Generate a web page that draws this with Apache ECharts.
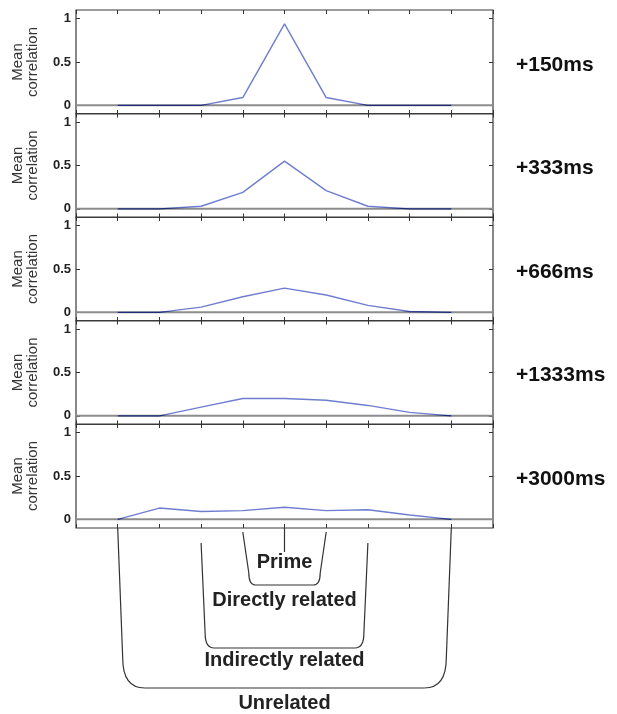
<!DOCTYPE html>
<html>
<head>
<meta charset="utf-8">
<script src="https://cdn.jsdelivr.net/npm/echarts@6/dist/echarts.min.js"></script>
<style>
html, body { margin: 0; padding: 0; background: #fff; }
#chart { width: 617px; height: 714px; }
</style>
</head>
<body>
<div id="chart"></div>
<script>
// one panel per delay
var delays = ['+150ms', '+333ms', '+666ms', '+1333ms', '+3000ms'];
// 9 positions along x, prime in the middle
var positions = [0, 1, 2, 3, 4, 5, 6, 7, 8];
var corr150 = [0, 0, 0, 0.09, 0.94, 0.09, 0, 0, 0];
var corr333 = [0, 0, 0.03, 0.19, 0.55, 0.21, 0.03, 0, 0];
var corr666 = [0, 0, 0.06, 0.18, 0.28, 0.2, 0.08, 0.01, 0];
var corr1333 = [0, 0, 0.1, 0.2, 0.2, 0.18, 0.12, 0.04, 0];
var corr3000 = [0, 0.13, 0.09, 0.1, 0.14, 0.1, 0.11, 0.05, 0];
var yTicks = [0, 0.5, 1];
// brackets under the last panel
var groupNames = ['Prime', 'Directly related', 'Indirectly related', 'Unrelated'];
var groupFrom = [4, 3, 2, 0];
var groupTo = [4, 5, 6, 8];

var panels = [corr150, corr333, corr666, corr1333, corr3000];
var FONT = 'Liberation Sans, Arial, sans-serif';

var chart = echarts.init(document.getElementById('chart'));

var top0 = 10, step = 103.5, h = 104;
var grids = [], xAxes = [], yAxes = [], series = [], lineIdx = [], labels = [];

panels.forEach(function (vals, k) {
  var top = top0 + step * k;
  grids.push({
    left: 76, right: 124, top: top, height: h,
    show: true, borderColor: '#3a3a3a', borderWidth: 1.2
  });
  ['bottom', 'top'].forEach(function (pos) {
    xAxes.push({
      gridIndex: k, type: 'value', min: -1, max: 9, interval: 1, position: pos,
      axisLine: { show: false, onZero: false },
      axisTick: { inside: true, length: 4, lineStyle: { color: '#333', width: 1 } },
      axisLabel: { show: false },
      splitLine: { show: false }
    });
  });
  ['left', 'right'].forEach(function (pos) {
    yAxes.push({
      gridIndex: k, type: 'value', min: -0.1, max: 1.1, position: pos,
      axisLine: { show: false, onZero: false },
      axisTick: { inside: true, length: 4, customValues: yTicks, lineStyle: { color: '#333', width: 1 } },
      axisLabel: {
        show: pos === 'left', customValues: yTicks, margin: 5,
        fontFamily: FONT, fontSize: 13, fontWeight: 'bold', color: '#222'
      },
      splitLine: { show: false },
      name: pos === 'left' ? 'Mean\ncorrelation' : '',
      nameLocation: 'middle', nameRotate: 90, nameGap: 36,
      nameTextStyle: { fontFamily: FONT, fontSize: 15, lineHeight: 15, color: '#333' }
    });
  });
  // zero reference line
  series.push({
    type: 'line', xAxisIndex: 2 * k, yAxisIndex: 2 * k, silent: true,
    data: [[-1, 0], [9, 0]], symbol: 'none', z: 1,
    lineStyle: { color: '#8c8c8c', width: 2 }
  });
  lineIdx.push(series.length);
  series.push({
    type: 'line', xAxisIndex: 2 * k, yAxisIndex: 2 * k,
    data: positions.map(function (p, i) { return [p, vals[i]]; }),
    symbol: 'none', z: 3,
    lineStyle: { width: 1.4, color: '#6e7dd0' }
  });
  labels.push({
    type: 'text', x: 516, y: top + 55,
    style: { text: delays[k], font: 'bold 21px ' + FONT, fill: '#111', verticalAlign: 'middle' }
  });
});

chart.setOption({
  animation: false,
  grid: grids,
  xAxis: xAxes,
  yAxis: yAxes,
  series: series,
  graphic: labels
});

// flat parts along zero are drawn darker, like the original
var seriesUpd = series.map(function (s, i) {
  var k = lineIdx.indexOf(i);
  if (k < 0) return {};
  var yCut = chart.convertToPixel({ gridIndex: k }, [0, 0.012])[1];
  return {
    lineStyle: {
      color: {
        type: 'linear', global: true, x: 0, y: yCut - 0.5, x2: 0, y2: yCut + 0.5,
        colorStops: [{ offset: 0, color: '#6e7dd0' }, { offset: 1, color: '#1d2b7a' }]
      }
    }
  };
});

// brackets grouping the positions
var gridBottom = top0 + step * 4 + h;
var tops = [0, 4, 15, 0];
var bottoms = [24, 57, 120, 160];
var textY = [34, 72, 132, 175];
var inset = [0, 6, 4, 5];
var rv = [0, 12, 15, 30];
var rh = [0, 7, 9, 22];
var brackets = [];
var stroke = { stroke: '#333', lineWidth: 1.2, fill: null };

function seg(x1, y1, x2, y2) {
  brackets.push({ type: 'line', shape: { x1: x1, y1: y1, x2: x2, y2: y2 }, style: stroke });
}
function corner(x1, y1, cx, cy, x2, y2) {
  brackets.push({
    type: 'bezierCurve',
    shape: { x1: x1, y1: y1, cpx1: cx, cpy1: cy, x2: x2, y2: y2 },
    style: stroke
  });
}

groupNames.forEach(function (name, g) {
  var x1 = chart.convertToPixel({ gridIndex: 4 }, [groupFrom[g], 0])[0];
  var x2 = chart.convertToPixel({ gridIndex: 4 }, [groupTo[g], 0])[0];
  var yT = gridBottom + tops[g], yB = gridBottom + bottoms[g];
  if (x1 === x2) {
    seg(x1, yT, x1, yB);
  } else {
    var a = x1 + inset[g], b = x2 - inset[g];
    seg(x1, yT, a, yB - rv[g]);
    corner(a, yB - rv[g], a, yB, a + rh[g], yB);
    seg(a + rh[g], yB, b - rh[g], yB);
    corner(b - rh[g], yB, b, yB, b, yB - rv[g]);
    seg(b, yB - rv[g], x2, yT);
  }
  brackets.push({
    type: 'text', x: (x1 + x2) / 2, y: gridBottom + textY[g],
    style: { text: name, font: 'bold 20px ' + FONT, fill: '#222', align: 'center', verticalAlign: 'middle' }
  });
});

chart.setOption({ series: seriesUpd, graphic: labels.concat(brackets) });
</script>
</body>
</html>
